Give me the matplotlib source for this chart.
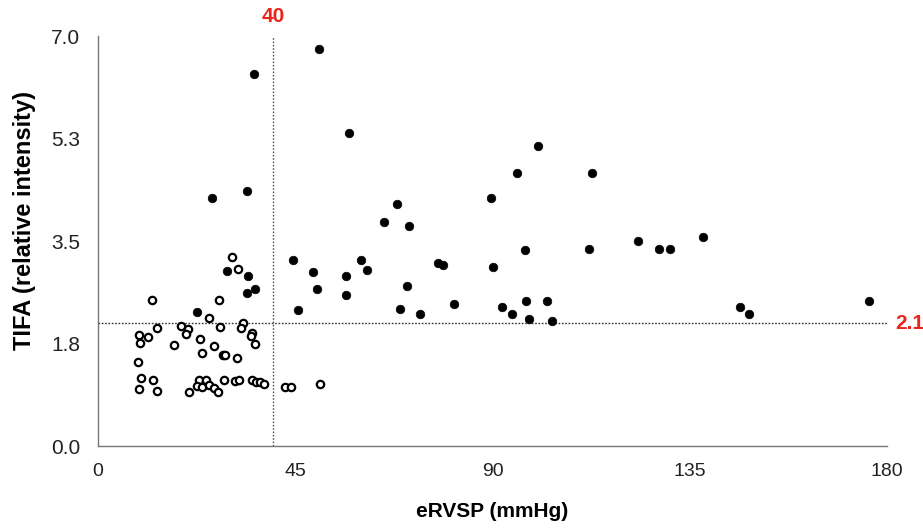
import matplotlib
matplotlib.use("Agg")
import matplotlib.pyplot as plt

# Open circles (below thresholds)
open_x = [30.6, 32.0, 12.3, 27.6, 25.3, 13.4, 18.9, 20.5, 27.9, 33.0, 32.6, 9.3, 11.3, 9.5,
          20.0, 23.3, 35.1, 34.8, 35.9, 17.3, 26.5, 23.7, 28.5, 29.0, 31.6, 9.2, 9.9, 12.6,
          9.3, 13.4, 20.8, 23.0, 24.6, 22.6, 23.7, 25.3, 26.5, 27.3, 28.7, 31.2, 32.2, 35.1,
          36.1, 36.9, 37.9, 42.6, 44.1, 50.7]
open_y = [3.22, 3.03, 2.50, 2.50, 2.18, 2.01, 2.05, 2.00, 2.04, 2.10, 2.02, 1.89, 1.86, 1.76,
          1.91, 1.83, 1.93, 1.87, 1.74, 1.72, 1.71, 1.59, 1.55, 1.56, 1.51, 1.43, 1.16, 1.13,
          0.98, 0.94, 0.93, 1.13, 1.12, 1.02, 1.00, 1.05, 0.99, 0.93, 1.12, 1.11, 1.12, 1.12,
          1.09, 1.10, 1.06, 1.01, 1.01, 1.06]

# Filled circles
fill_x = [50.5, 35.5, 57.2, 100.3, 95.6, 112.7, 33.9, 25.9, 89.6, 65.3, 68.2, 71.0, 123.2,
          128.0, 130.4, 138.1, 97.3, 112.1, 44.4, 59.9, 77.5, 78.6, 90.0, 61.4, 49.0, 56.5,
          29.4, 34.2, 70.6, 49.9, 33.9, 35.7, 56.5, 81.2, 45.6, 68.8, 73.5, 92.1, 94.4, 97.6,
          102.4, 98.3, 103.5, 146.5, 148.5, 176.0, 22.5]
fill_y = [6.77, 6.35, 5.35, 5.12, 4.66, 4.66, 4.35, 4.24, 4.24, 3.83, 4.13, 3.76, 3.50,
          3.37, 3.37, 3.57, 3.34, 3.36, 3.17, 3.17, 3.12, 3.09, 3.06, 3.00, 2.97, 2.91,
          2.99, 2.90, 2.74, 2.68, 2.62, 2.68, 2.57, 2.42, 2.32, 2.34, 2.26, 2.38, 2.25, 2.47,
          2.48, 2.16, 2.14, 2.37, 2.25, 2.47, 2.29]

x_ticks = [0, 45, 90, 135, 180]
y_ticks = [0.0, 1.75, 3.5, 5.25, 7.0]
y_tick_labels = ["0.0", "1.8", "3.5", "5.3", "7.0"]
x_cut = 40
y_cut = 2.1

regular = ["Liberation Sans", "DejaVu Sans"]
red = "#e8261c"

fig = plt.figure(figsize=(9.23, 5.28), dpi=100)
ax = fig.add_axes([0.1062, 0.1553, 0.8548, 0.7765])

ax.scatter(fill_x, fill_y, s=38, color="black", edgecolors="black", linewidths=0.5, zorder=3)
ax.scatter(open_x, open_y, s=28, facecolors="white", edgecolors="black", linewidths=1.6, zorder=3)

ax.axvline(x_cut, color="#555555", linestyle=(0, (1.2, 1.2)), linewidth=1.0, zorder=1)
ax.axhline(y_cut, color="#333333", linestyle=(0, (1.2, 1.2)), linewidth=1.0, zorder=1)

ax.set_xlim(0, 180)
ax.set_ylim(0, 7)
ax.set_xticks(x_ticks)
ax.set_xticklabels([str(v) for v in x_ticks], family=regular, fontsize=14)
ax.set_yticks(y_ticks)
ax.set_yticklabels(y_tick_labels, family=regular, fontsize=15)
ax.tick_params(axis="both", length=0, colors="#222222")
ax.tick_params(axis="x", pad=12)
ax.tick_params(axis="y", pad=13)

for side in ["top", "right"]:
    ax.spines[side].set_visible(False)
for side in ["left", "bottom"]:
    ax.spines[side].set_color("#777777")
    ax.spines[side].set_linewidth(1.0)

ax.set_xlabel("eRVSP (mmHg)", family=regular, fontsize=15, fontweight="bold", labelpad=16)
ax.set_ylabel("TIFA (relative intensity)", family=regular, fontsize=17, fontweight="bold")
ax.yaxis.set_label_coords(-0.078, 0.55)

ax.annotate("40", xy=(x_cut, 7.0), xycoords="data", xytext=(0, 7),
            textcoords="offset points", color=red, fontsize=15, fontweight="bold",
            family=regular, ha="center", va="bottom", annotation_clip=False)
ax.annotate("2.1", xy=(1.0, y_cut), xycoords=("axes fraction", "data"), xytext=(6, 0),
            textcoords="offset points", color=red, fontsize=15, fontweight="bold",
            family=regular, ha="left", va="center", annotation_clip=False)

fig.savefig("out.png", dpi=100)
